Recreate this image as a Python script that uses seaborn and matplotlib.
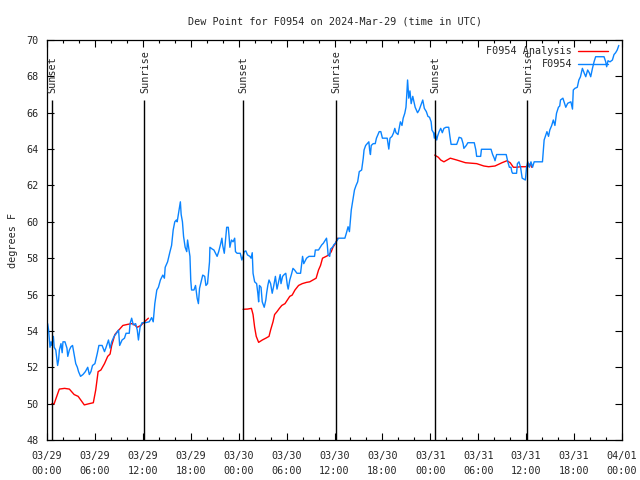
import numpy as np
import pandas as pd
import matplotlib
matplotlib.use("Agg")
import matplotlib.pyplot as plt
from matplotlib.lines import Line2D
import seaborn as sns

# ---------------- data (hours since 2024-03-29 00:00 UTC) ----------------
obs_t = [0.08, 0.2, 0.375, 0.5, 0.6, 0.8, 0.9, 1.1, 1.33, 1.45, 1.55, 1.75, 1.9, 2.0, 2.25, 2.5, 2.6, 2.8,
         3.0, 3.2, 3.4, 3.6, 3.8, 3.95, 4.2, 4.5, 4.8, 5.1, 5.3, 5.5, 5.7, 6.0, 6.3, 6.5, 6.9, 7.2, 7.4,
         7.7, 7.9, 8.1, 8.4, 8.7, 8.96, 9.1, 9.4, 9.7, 9.9, 10.3, 10.4, 10.6, 10.8, 11.1, 11.3, 11.45,
         11.65, 11.9, 12.3, 12.8, 13.1, 13.3, 13.5, 13.75, 13.95, 14.2, 14.5, 14.7, 14.8, 15.1, 15.4,
         15.6, 15.8, 16.0, 16.2, 16.3, 16.5, 16.7, 16.8, 16.96, 17.1, 17.3, 17.5, 17.6, 17.7, 17.9,
         18.0, 18.1, 18.4, 18.6, 18.8, 18.96, 19.1, 19.3, 19.5, 19.75, 19.9, 20.1, 20.2, 20.35, 20.4,
         20.7, 20.9, 21.1, 21.3, 21.5, 21.75, 21.9, 22.0, 22.2, 22.4, 22.5, 22.7, 22.8, 22.9, 23.1,
         23.3, 23.5, 23.6, 23.8, 24.2, 24.4, 24.55, 24.7, 24.9, 25.1, 25.4, 25.55, 25.7, 25.8, 26.0,
         26.25, 26.4, 26.5, 26.6, 26.8, 26.95, 27.2, 27.4, 27.5, 27.65, 27.8, 28.0, 28.2, 28.4, 28.6,
         28.8, 29.0, 29.2, 29.3, 29.5, 29.7, 29.9, 30.1, 30.2, 30.4, 30.6, 30.8, 31.0, 31.3, 31.75,
         31.9, 32.0, 32.15, 32.5, 32.8, 33.5, 33.6, 34.0, 34.4, 34.6, 35.0, 35.1, 35.2, 35.4, 35.5,
         35.8, 35.9, 36.1, 36.5, 37.3, 37.5, 37.7, 37.87, 38.0, 38.1, 38.3, 38.5, 38.7, 38.9, 39.1,
         39.4, 39.6, 39.7, 39.9, 40.1, 40.3, 40.4, 40.5, 40.6, 40.85, 41.1, 41.25, 41.45, 41.6, 41.8,
         42.0, 42.6, 42.7, 42.8, 42.95, 43.2, 43.4, 43.55, 43.7, 43.95, 44.1, 44.25, 44.45, 44.6,
         44.8, 44.95, 45.05, 45.15, 45.3, 45.45, 45.6, 45.8, 46.1, 46.4, 46.6, 46.8, 47.05, 47.25,
         47.5, 47.7, 47.9, 48.1, 48.2, 48.4, 48.5, 48.6, 48.8, 48.9, 49.1, 49.3, 49.5, 49.7, 49.96,
         50.3, 50.45, 50.6, 51.3, 51.5, 51.6, 51.9, 52.1, 52.2, 52.5, 52.7, 53.5, 53.7, 53.8, 54.3,
         54.4, 55.6, 55.8, 56.0, 56.1, 56.3, 57.5, 57.7, 57.9, 58.1, 58.2, 58.3, 58.8, 58.9, 59.1,
         59.3, 59.5, 59.9, 60.05, 60.2, 60.4, 60.6, 60.8, 61.0, 62.04, 62.25, 62.4, 62.6, 62.8,
         62.96, 63.2, 63.4, 63.6, 63.8, 64.04, 64.2, 64.3, 64.6, 64.8, 64.96, 65.2, 65.6, 65.8,
         65.9, 66.1, 66.4, 66.6, 66.8, 67.04, 67.25, 67.46, 67.7, 67.9, 68.08, 68.3, 68.5, 68.7,
         69.75, 69.96, 70.08, 70.25, 70.5, 70.8, 71.0, 71.2, 71.4, 71.6]
obs_v = [54.4, 54.05, 53.1, 53.4, 53.2, 53.7, 53.1, 52.95, 52.1, 52.4, 52.95, 53.3, 52.8, 53.4, 53.4, 53.05,
         52.6, 52.95, 53.13, 53.2, 52.7, 52.2, 52.0, 51.76, 51.5, 51.6, 51.76, 52.0, 51.6, 51.76, 52.1,
         52.2, 52.77, 53.2, 53.2, 52.86, 53.1, 53.5, 53.05, 53.4, 53.7, 53.87, 54.05, 53.2, 53.5, 53.6,
         53.87, 53.87, 54.4, 54.7, 54.33, 54.4, 54.05, 53.5, 54.2, 54.45, 54.45, 54.5, 54.73, 54.5,
         55.5, 56.25, 56.4, 56.8, 57.07, 56.9, 57.5, 57.8, 58.36, 58.7, 59.55, 60.0, 60.1, 60.0,
         60.56, 61.1, 60.4, 60.0, 59.2, 58.6, 58.36, 59.0, 58.7, 58.1, 56.8, 56.25, 56.25, 56.5,
         55.8, 55.5, 56.34, 56.7, 57.07, 57.0, 56.5, 56.6, 57.07, 57.8, 58.6, 58.5, 58.45, 58.27,
         58.1, 58.36, 58.8, 59.1, 58.7, 58.27, 59.2, 59.7, 59.7, 59.2, 58.6, 59.0, 58.9, 59.1, 58.36,
         58.27, 58.27, 57.9, 58.1, 58.36, 58.4, 58.18, 58.1, 58.0, 58.3, 57.17, 56.7, 56.6, 56.07,
         55.6, 56.5, 56.4, 55.6, 55.3, 55.7, 56.07, 56.5, 56.8, 56.6, 56.07, 56.5, 57.0, 56.3, 56.7,
         57.1, 56.6, 57.0, 57.1, 57.17, 56.5, 56.3, 56.8, 57.1, 57.44, 57.35, 57.17, 57.17, 57.7,
         58.1, 57.7, 58.0, 58.1, 58.1, 58.45, 58.45, 58.73, 58.82, 59.1, 58.73, 58.18, 58.1, 58.5,
         58.63, 58.73, 58.82, 59.1, 59.1, 59.4, 59.73, 59.46, 60.1, 60.65, 61.2, 61.75, 62.0, 62.2,
         62.76, 62.85, 63.5, 63.95, 64.2, 64.3, 64.4, 63.95, 63.7, 64.2, 64.3, 64.3, 64.6, 64.8,
         64.96, 64.96, 64.6, 64.6, 64.3, 64.0, 64.6, 64.7, 64.9, 65.14, 64.9, 64.8, 65.14, 65.5,
         65.3, 65.7, 65.97, 66.3, 67.0, 67.8, 66.8, 67.2, 66.5, 66.9, 66.3, 66.0, 66.15, 66.4, 66.7,
         66.24, 66.06, 65.8, 65.75, 65.5, 65.05, 64.9, 64.6, 64.9, 64.5, 64.7, 64.96, 65.14, 64.9,
         65.14, 65.2, 65.2, 64.7, 64.26, 64.26, 64.5, 64.65, 64.6, 64.3, 64.04, 64.2, 64.35, 64.35,
         63.95, 63.6, 63.6, 63.99, 63.99, 63.7, 63.5, 63.36, 63.7, 63.7, 63.3, 63.0, 63.0, 62.76,
         62.67, 62.67, 63.2, 63.3, 63.0, 62.4, 62.3, 63.0, 63.3, 63.0, 63.3, 63.0, 63.3, 63.3, 64.5,
         64.7, 64.96, 64.7, 65.05, 65.3, 65.6, 65.3, 65.97, 66.3, 66.37, 66.7, 66.8, 66.52, 66.3,
         66.52, 66.6, 66.2, 67.25, 67.34, 67.4, 67.8, 67.98, 68.44, 68.2, 67.98, 68.35, 68.2, 67.98,
         68.44, 68.8, 69.08, 69.08, 68.8, 68.53, 68.86, 68.8, 68.9, 69.2, 69.3, 69.45, 69.7]

ana_t_1 = [0.6, 0.9, 1.54, 2.2, 2.8, 3.4, 3.9, 4.67, 5.3, 5.8, 6.1, 6.4, 6.75, 7.2, 7.6, 7.9, 8.1, 8.5,
           8.8, 9.1, 9.5, 10.1, 10.6, 10.9, 11.3, 11.75, 12.2, 12.7]
ana_v_1 = [50.0, 50.0, 50.8, 50.84, 50.8, 50.5, 50.4, 49.93, 50.0, 50.05, 50.75, 51.76, 51.85, 52.2,
           52.6, 52.73, 53.2, 53.8, 53.96, 54.1, 54.3, 54.36, 54.4, 54.36, 54.2, 54.3, 54.5, 54.7]
ana_t_2 = [24.55, 25.1, 25.6, 25.8, 26.0, 26.2, 26.5, 26.96, 27.4, 27.8, 28.0, 28.3, 28.5, 28.8, 29.1,
           29.4, 29.8, 30.1, 30.4, 30.7, 31.05, 31.5, 31.96, 32.5, 32.9, 33.3, 33.7, 34.0, 34.25,
           34.5, 34.96, 35.3, 35.6, 35.8, 36.1, 36.4]
ana_v_2 = [55.19, 55.2, 55.24, 54.9, 54.2, 53.7, 53.37, 53.5, 53.6, 53.7, 54.05, 54.5, 54.9, 55.06,
           55.24, 55.4, 55.5, 55.7, 55.9, 55.97, 56.25, 56.5, 56.6, 56.67, 56.7, 56.8, 56.9, 57.35,
           57.6, 58.0, 58.1, 58.18, 58.36, 58.6, 58.8, 59.1]
ana_t_3 = [48.55, 49.0, 49.3, 49.7, 50.5, 51.3, 52.4, 53.8, 54.7, 55.3, 56.1, 56.97, 57.6, 58.0, 58.4,
           58.8, 59.3, 59.9, 60.3, 60.5, 60.7]
ana_v_3 = [63.67, 63.55, 63.4, 63.3, 63.5, 63.4, 63.25, 63.2, 63.07, 63.03, 63.07, 63.25, 63.36, 63.25,
           63.0, 63.0, 63.03, 63.03, 63.07, 63.2, 63.0]

event_times = [0.59, 12.2, 24.55, 36.16, 48.55, 60.16]
event_labels = ["Sunset", "Sunrise", "Sunset", "Sunrise", "Sunset", "Sunrise"]

x_tick_hours = list(range(0, 73, 6))
x_tick_labels = ["03/29\n00:00", "03/29\n06:00", "03/29\n12:00", "03/29\n18:00",
                 "03/30\n00:00", "03/30\n06:00", "03/30\n12:00", "03/30\n18:00",
                 "03/31\n00:00", "03/31\n06:00", "03/31\n12:00", "03/31\n18:00",
                 "04/01\n00:00"]
y_ticks = list(range(48, 71, 2))

series_obs = "F0954"
series_ana = "F0954 Analysis"
title = "Dew Point for F0954 on 2024-Mar-29 (time in UTC)"
ylabel = "degrees F"

# ---------------- frames ----------------
obs = pd.DataFrame({"t": obs_t, "v": obs_v})
ana = pd.concat([
    pd.DataFrame({"t": ana_t_1, "v": ana_v_1, "seg": 1}),
    pd.DataFrame({"t": ana_t_2, "v": ana_v_2, "seg": 2}),
    pd.DataFrame({"t": ana_t_3, "v": ana_v_3, "seg": 3}),
], ignore_index=True)

# ---------------- style ----------------
sns.set_style("white")
FONT = ["DejaVu Sans Mono", "DejaVu Sans"]
plt.rcParams["font.family"] = FONT
FS = 7.3
RED = "#ff0000"
BLUE = "#0a84ff"

fig = plt.figure(figsize=(6.4, 4.8), dpi=100)
ax = fig.add_axes([47 / 640, 40 / 480, 575 / 640, 400 / 480])

sns.lineplot(data=ana, x="t", y="v", units="seg", estimator=None, color=RED,
             lw=1.0, ax=ax, legend=False)
sns.lineplot(data=obs, x="t", y="v", estimator=None, color=BLUE, lw=1.0,
             ax=ax, legend=False)

ax.set_xlim(0, 72)
ax.set_ylim(48, 70)

# sunrise / sunset markers
ax.vlines(event_times, 48, 66.7, color="black", lw=1.0)
for t, lab in zip(event_times, event_labels):
    ax.text(t + 0.1, 67.1, lab, rotation=90, ha="center", va="bottom", fontsize=FS,
            family=FONT)

# ticks
ax.set_xticks(x_tick_hours)
ax.set_xticklabels(x_tick_labels, fontsize=FS, linespacing=1.55)
ax.set_xticks(np.arange(0, 73, 2), minor=True)
ax.set_yticks(y_ticks)
ax.set_yticklabels([str(y) for y in y_ticks], fontsize=FS)
ax.tick_params(axis="both", which="major", direction="in", length=5, width=0.8,
               top=True, right=True, bottom=True, left=True, color="black", pad=6)
ax.tick_params(axis="x", which="major", pad=8)
ax.tick_params(axis="x", which="minor", direction="in", length=2.5, width=0.8,
               top=True, bottom=True, color="black")
for s in ax.spines.values():
    s.set_color("black")
    s.set_linewidth(0.9)

ax.set_xlabel("")
ax.set_ylabel(ylabel, fontsize=FS)
ax.yaxis.set_label_coords(-0.05, 0.5)
ax.set_title(title, fontsize=FS, pad=11)

handles = [Line2D([], [], color=RED, lw=1.0), Line2D([], [], color=BLUE, lw=1.0)]
ax.legend(handles, [series_ana, series_obs], loc="upper right",
          bbox_to_anchor=(0.982, 0.995), borderaxespad=0, frameon=False,
          markerfirst=False, handlelength=2.9, handletextpad=0.6,
          labelspacing=0.3, fontsize=FS)

fig.savefig("out.png", dpi=100)
